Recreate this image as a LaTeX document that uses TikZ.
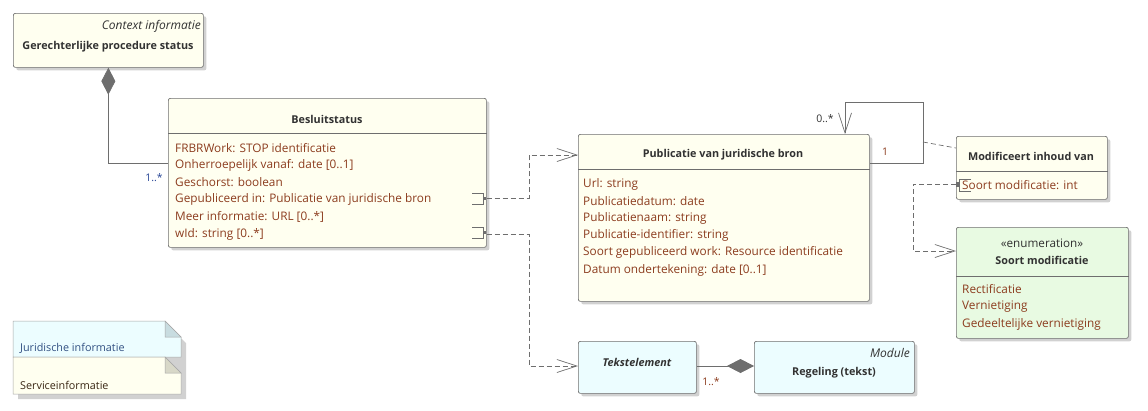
\documentclass[tikz,border=0pt]{standalone}
\usepackage{fontspec}
\setmainfont{Open Sans}
\usetikzlibrary{arrows.meta,shadows,positioning}
\definecolor{classfill}{RGB}{255,255,240}
\definecolor{enumfill}{RGB}{232,250,226}
\definecolor{jurfill}{RGB}{236,253,255}
\definecolor{linegray}{RGB}{110,110,110}
\definecolor{attrtext}{RGB}{140,60,30}
\definecolor{nametext}{RGB}{50,50,50}
\definecolor{multblue}{RGB}{40,70,150}
\definecolor{notetext}{RGB}{50,80,130}
\definecolor{jurfold}{RGB}{200,220,224}
\definecolor{servfold}{RGB}{216,216,200}
\begin{document}
\begin{tikzpicture}[x=1pt,y=-1pt,
  box/.style={draw=linegray,line width=0.7pt,rounded corners=2pt,inner sep=0pt,anchor=north west,
    drop shadow={shadow xshift=3pt,shadow yshift=-3pt,fill=black,opacity=0.18}},
  classbox/.style={box,fill=classfill},
  enumbox/.style={box,fill=enumfill},
  jurbox/.style={box,fill=jurfill},
  cname/.style={font=\fontsize{10.8}{13}\selectfont\bfseries,text=nametext,inner sep=0pt},
  stereo/.style={font=\fontsize{12}{14}\selectfont\itshape,text=nametext,inner sep=0pt},
  attr/.style={font=\fontsize{11.8}{14}\selectfont,text=attrtext,anchor=west,inner sep=0pt},
  mult/.style={font=\fontsize{10.5}{12}\selectfont,inner sep=0pt},
  divider/.style={draw=linegray,line width=0.7pt},
  assoc/.style={draw=linegray,line width=0.7pt},
  dep/.style={assoc,dash pattern=on 5pt off 3pt},
  opentip/.style={-{Straight Barb[length=20pt,width=13pt,line width=0.7pt]}},
  comp/.style={assoc,{Diamond[length=27pt,width=14pt]}-},
  notetxt/.style={font=\fontsize{10.8}{13}\selectfont,anchor=west,inner sep=0pt}
]
\useasboundingbox (0,0) rectangle (1148,410);

% Gerechterlijke procedure status
\node[classbox,minimum width=190pt,minimum height=54pt] (ger) at (13,13) {};
\node[stereo,anchor=east] (gerCtx) at (201,26) {Context informatie};
\node[cname] (gerName) at (108,47) {Gerechterlijke procedure status};

% Besluitstatus
\node[classbox,minimum width=318pt,minimum height=149pt] (bes) at (168,98) {};
\node[cname] (besName) at (327,119) {Besluitstatus};
\draw[divider] (bes.west |- 0,133) -- (bes.east |- 0,133);
\node[attr] (besA) at (175,148) {FRBRWork: STOP identificatie};
\node[attr] (besB) at (175,165) {Onherroepelijk vanaf: date [0..1]};
\node[attr] (besC) at (175,182) {Geschorst: boolean};
\node[attr] (besD) at (175,199) {Gepubliceerd in: Publicatie van juridische bron};
\node[attr] (besE) at (175,217) {Meer informatie: URL [0..*]};
\node[attr] (besF) at (175,234) {wId: string [0..*]};
\draw[linegray,line width=0.7pt] (472,193) -- (483,193) -- (483,204) -- (472,204);
\fill[linegray] (483,196.5) rectangle (486,200);
\draw[linegray,line width=0.7pt] (472,227) -- (483,227) -- (483,238) -- (472,238);
\fill[linegray] (483,230.5) rectangle (486,234);

% Publicatie van juridische bron
\node[classbox,minimum width=291pt,minimum height=167pt] (pub) at (578,134) {};
\node[cname] (pubName) at (723,155) {Publicatie van juridische bron};
\draw[divider] (pub.west |- 0,169) -- (pub.east |- 0,169);
\node[attr] (pubA) at (583,184) {Url: string};
\node[attr] (pubB) at (583,201) {Publicatiedatum: date};
\node[attr] (pubC) at (583,218) {Publicatienaam: string};
\node[attr] (pubD) at (583,235) {Publicatie-identifier: string};
\node[attr] (pubE) at (583,252) {Soort gepubliceerd work: Resource identificatie};
\node[attr] (pubF) at (583,270) {Datum ondertekening: date [0..1]};

% Modificeert inhoud van
\node[classbox,minimum width=151pt,minimum height=63pt] (mod) at (956,136) {};
\node[cname] (modName) at (1031,156) {Modificeert inhoud van};
\draw[divider] (mod.west |- 0,171) -- (mod.east |- 0,171);
\node[attr] (modA) at (962,185) {Soort modificatie: int};
\draw[linegray,line width=0.7pt] (971,179) -- (959,179) -- (959,191) -- (971,191);
\fill[linegray] (956,182) rectangle (959,187);

% Soort modificatie
\node[enumbox,minimum width=172pt,minimum height=111pt] (enum) at (956,227) {};
\node[cname,font=\fontsize{11.7}{14}\selectfont] (enumSt) at (1042,243) {«enumeration»};
\node[cname] (enumName) at (1042,260) {Soort modificatie};
\draw[divider] (enum.west |- 0,276) -- (enum.east |- 0,276);
\node[attr] (enumA) at (962,289) {Rectificatie};
\node[attr] (enumB) at (962,307) {Vernietiging};
\node[attr] (enumC) at (962,324) {Gedeeltelijke vernietiging};

% Tekstelement
\node[jurbox,minimum width=118pt,minimum height=52pt] (tek) at (578,341) {};
\node[cname,font=\fontsize{10.8}{13}\selectfont\bfseries\itshape] (tekName) at (637,362) {Tekstelement};

% Regeling (tekst)
\node[jurbox,minimum width=160pt,minimum height=52pt] (reg) at (754,341) {};
\node[stereo,anchor=east] (regMod) at (910,353) {Module};
\node[cname] (regName) at (834,373) {Regeling (tekst)};

% Notes
\fill[black,opacity=0.18] (18,326) -- (168,326) -- (186,343) -- (186,399) -- (18,399) -- cycle;
\draw[line width=0.5pt,draw=black!35,fill=jurfill] (13,321) -- (165,321) -- (181,337) -- (181,357) -- (13,357) -- cycle;
\draw[line width=0.5pt,draw=black!35,fill=jurfold] (165,321) -- (165,337) -- (181,337) -- cycle;
\node[notetxt,text=notetext] (jurNote) at (20,348) {Juridische informatie};
\draw[line width=0.5pt,draw=black!35,fill=classfill] (13,357) -- (165,357) -- (181,373) -- (181,394) -- (13,394) -- cycle;
\draw[line width=0.5pt,draw=black!35,fill=servfold] (165,357) -- (165,373) -- (181,373) -- cycle;
\node[notetxt,text=black!70!brown] (servNote) at (20,385) {Serviceinformatie};

% Connectors
\draw[comp] (ger.south) |- (bes.west |- 0,163);
\node[mult,text=multblue] (m1) at (154,178) {1..*};
\draw[dep,opentip] (bes.east |- 0,198) -- (529,198) |- (pub.west |- 0,155);
\draw[dep,opentip] (bes.east |- 0,234) -- (529,234) |- (tek.west |- 0,366);
\draw[assoc,opentip] (pub.east |- 0,163) -- (923,163) -- (923,102) -- (845,102) -- (pub.north -| 845,0);
\node[mult,text=nametext] (m2) at (825,119) {0..*};
\node[mult,text=attrtext] (m3) at (885,152) {1};
\coordinate (loopMid) at (923,142);
\draw[dep] (loopMid) -- (mod.west |- 0,148);
\draw[dep,opentip] (mod.west |- 0,184) -- (913,184) |- (enum.west |- 0,251);
\draw[comp] (reg.west |- 0,366) -- (tek.east |- 0,366);
\node[mult,text=attrtext] (m4) at (711,382) {1..*};
\end{tikzpicture}
\end{document}
